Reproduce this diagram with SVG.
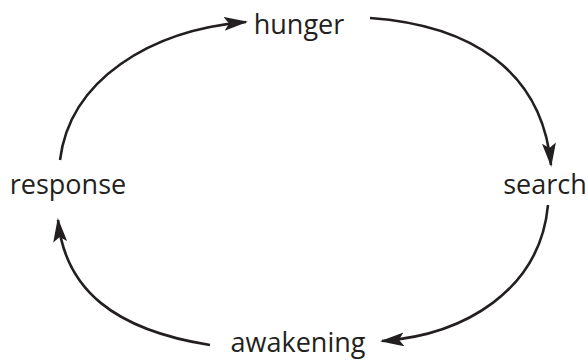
<svg xmlns="http://www.w3.org/2000/svg" width="588" height="360" viewBox="0 0 588 360">
<style>
.lbl{font-family:"Open Sans","Noto Sans",sans-serif;font-size:27px;fill:#231f20}
.c{fill:none;stroke:#231f20;stroke-width:2.6}
</style>
<defs>
<marker id="ah" markerWidth="24" markerHeight="14" refX="22" refY="7" orient="auto" markerUnits="userSpaceOnUse">
<path d="M0,0 L24,7 L0,14 L5,7 Z" fill="#231f20"/>
</marker>
</defs>
<rect width="588" height="360" fill="#fff"/>
<g id="connectors">
<path class="c" d="M60,160 C70,80 150,30 246,22" marker-end="url(#ah)"/>
<path class="c" d="M370,18 C470,25 542,70 551,165" marker-end="url(#ah)"/>
<path class="c" d="M548,205 C540,290 465,335 382,341" marker-end="url(#ah)"/>
<path class="c" d="M210,345 C115,330 65,290 58,220" marker-end="url(#ah)"/>
</g>
<g id="hunger"><text class="lbl" x="299" y="34" text-anchor="middle">hunger</text></g>
<g id="search"><text class="lbl" x="545" y="194" text-anchor="middle">search</text></g>
<g id="response"><text class="lbl" x="68" y="194" text-anchor="middle">response</text></g>
<g id="awakening"><text class="lbl" x="298" y="352" text-anchor="middle">awakening</text></g>
</svg>
